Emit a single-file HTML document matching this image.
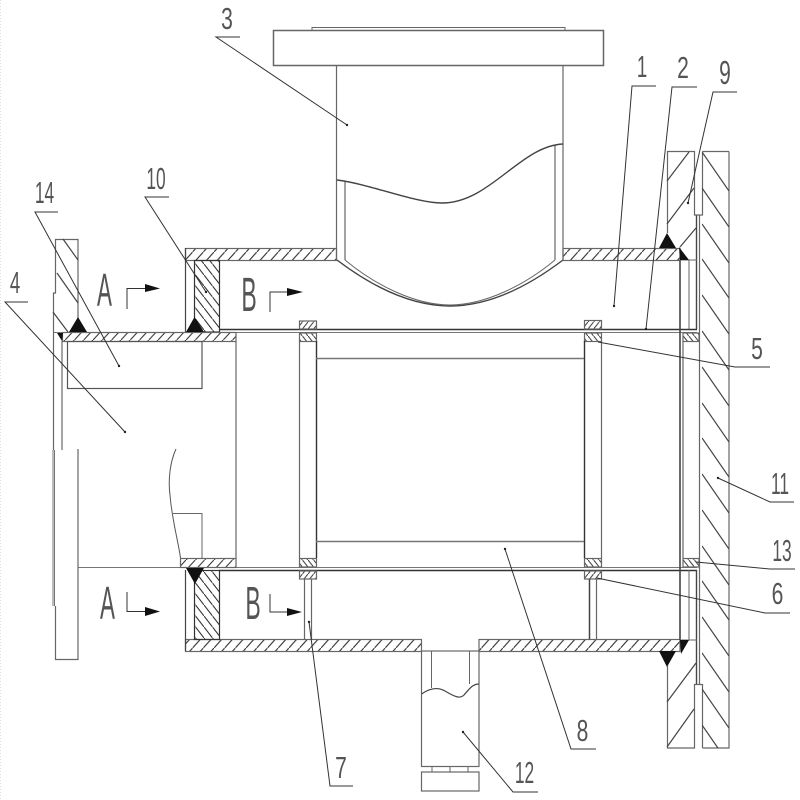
<!DOCTYPE html>
<html>
<head>
<meta charset="utf-8">
<style>
html,body{margin:0;padding:0;background:#fff;width:800px;height:800px;overflow:hidden}
svg{display:block;filter:blur(.35px)}
text{font-family:"Liberation Sans",sans-serif;fill:#555;font-weight:400}
</style>
</head>
<body>
<svg width="800" height="800" viewBox="0 0 800 800" xmlns="http://www.w3.org/2000/svg">
<defs>
<pattern id="hw" width="10.7" height="12" patternUnits="userSpaceOnUse"><path d="M0,12L10.7,0" stroke="#333" stroke-width="1.1" fill="none"/></pattern>
<pattern id="hp" width="9.3" height="10" patternUnits="userSpaceOnUse"><path d="M0,10L9.3,0" stroke="#333" stroke-width="1.1" fill="none"/></pattern>
<pattern id="hb" width="8.5" height="11" patternUnits="userSpaceOnUse"><path d="M0,0L8.5,11" stroke="#333" stroke-width="1.1" fill="none"/></pattern>
<pattern id="rf" width="5.6" height="7" patternUnits="userSpaceOnUse"><path d="M0,7L5.6,0" stroke="#333" stroke-width="1" fill="none"/></pattern>
<pattern id="rb" width="5.6" height="7" patternUnits="userSpaceOnUse"><path d="M0,0L5.6,7" stroke="#333" stroke-width="1" fill="none"/></pattern>
<clipPath id="c11"><rect x="702" y="151" width="27" height="597"/></clipPath>
</defs>
<rect width="800" height="800" fill="#fff"/>
<line x1="0.5" y1="0" x2="0.5" y2="800" stroke="#ddd" stroke-dasharray="1 2"/>

<g fill="none" stroke="#666" stroke-width="1.2">
<!-- top flange and neck -->
<rect x="273.500" y="30.500" width="330" height="35" stroke-width="1.5"/>
<rect x="312" y="27.500" width="253" height="3" stroke-width="1"/>
<path d="M336.500,66V260M563,66V260M345,181V260M555,145V260"/>
<path d="M337,180C370,184 415,203 442,203C490,203 520,146 563,144" stroke="#444" stroke-width="1.4"/>
<path d="M337,260C370,285 410,306 450,306C490,306 530,285 563,260" stroke="#444" stroke-width="1.4"/>
<path d="M345,260C375,285 415,305 450,305C485,305 525,285 555,260" stroke-width="1"/>

<!-- outer tube walls -->
<rect x="185.500" y="248.500" width="151" height="12" fill="url(#hw)"/>
<rect x="563" y="248.500" width="117" height="12" fill="url(#hw)"/>
<rect x="185.500" y="639.500" width="236" height="12" fill="url(#hw)"/>
<rect x="479" y="639.500" width="201" height="12" fill="url(#hw)"/>
<path d="M185.500,248V332M185.500,570V651" stroke="#444"/>
<rect x="194.500" y="260.500" width="25" height="71.500" fill="url(#hb)" stroke="#333"/>
<rect x="194.500" y="570.500" width="25" height="69" fill="url(#hb)" stroke="#333"/>

<!-- inner tube -->
<path d="M219,329.500H697M219,570.500H697" stroke="#333" stroke-width="1.6"/>
<path d="M53,332.500H62M236,332.500H697M78,567.500H180M236,567.500H697" stroke="#777" stroke-width="1"/>

<!-- inlet pipe -->
<rect x="62.500" y="332.500" width="173.500" height="9" fill="url(#hp)"/>
<rect x="180.500" y="558.500" width="55.500" height="9" fill="url(#hp)"/>
<rect x="67.500" y="341.500" width="134.500" height="47" stroke="#555"/>
<path d="M236,341V558"/>
<path d="M62,341V450"/>
<path d="M176,449C170,462 168,480 170,495C172,520 178,540 180.500,558" stroke="#555" stroke-width="1"/>
<path d="M173,513.500H202V558" stroke-width="1"/>

<!-- left flange -->
<path d="M53.500,332V293H55.500V239.500H78V332"/>
<path d="M53.500,332V450"/>
<path d="M54.500,450V606M53,450V606" stroke-width="0.9"/>
<path d="M78,449V659.500H55.500V606"/>
<path d="M63,239L78,260M57,273L78,303M53,312L68,332" stroke="#444"/>

<!-- rings -->
<rect x="299.500" y="321" width="17" height="8" fill="url(#rf)"/>
<rect x="299.500" y="333" width="17" height="8.500" fill="url(#rb)"/>
<rect x="299.500" y="558.500" width="17" height="8.500" fill="url(#rb)"/>
<rect x="299.500" y="571" width="17" height="8" fill="url(#rf)"/>
<rect x="584.500" y="320.500" width="17" height="8.500" fill="url(#rf)"/>
<rect x="584.500" y="333" width="17" height="8.500" fill="url(#rb)"/>
<rect x="584.500" y="558.500" width="17" height="8.500" fill="url(#rb)"/>
<rect x="584.500" y="571" width="17" height="8" fill="url(#rf)"/>
<rect x="683" y="333" width="16" height="8.500" fill="url(#rb)"/>
<rect x="683" y="558.500" width="16" height="8.500" fill="url(#rb)"/>
<path d="M299.500,341V558M601.500,341V558M683,341V558"/>
<path d="M316.500,341V558M584.500,341V558" stroke="#333" stroke-width="1.4"/>
<path d="M304.500,579V639M311.500,579V639M596.500,579V639"/>
<path d="M589.500,579V639" stroke="#444" stroke-width="1.5"/>

<!-- inner cylinder -->
<path d="M316,358.500H584M316,541.500H584" stroke-width="1.4" stroke="#777"/>

<!-- right verticals -->
<path d="M680,260V640" stroke="#444" stroke-width="1.6"/>
<path d="M689,260V329M689,570V640" stroke-width="1"/>
<path d="M696.500,215V329M696.500,570V684" stroke="#444" stroke-width="1.4"/>

<!-- end plate 9 -->
<path d="M667.500,233V151.500H694.500V215H702.500V151.500"/>
<path d="M667.500,666V748H694.500V684.500H702.500V748"/>
<path d="M680,260H697M680,640H697" stroke-width="1"/>
<path d="M667,181L689,152M667,224L694,188M680,247L696,228M667,702L696,663M667,747L694,709" stroke="#444"/>

<!-- plate 11 -->
<path d="M729,151.500H702.500M729,151.500V748H702.500M699.500,215V684"/>
<g clip-path="url(#c11)" stroke="#444">
<path d="M702,152l27,39M702,188l27,39M702,224l27,39M702,259l27,39M702,295l27,39M702,331l27,39M702,367l27,39M702,403l27,39M702,438l27,39M702,474l27,39M702,510l27,39M702,546l27,39M702,581l27,39M702,617l27,39M702,653l27,39M702,689l27,39M702,725l27,39"/>
</g>

<!-- bottom nozzle -->
<rect x="421.500" y="651" width="57.500" height="115.500"/>
<path d="M431.500,651V688M469.500,651V684" stroke-width="1"/>
<path d="M421.500,694C430,688 438,687 445,691C455,697 460,699 464,695C470,688 473,684 479,684" stroke="#444"/>
<path d="M432,766V772M450,766V772M468,766V772" stroke-width="1"/>
<rect x="421.500" y="772" width="57.500" height="19"/>

<!-- leaders -->
<g stroke="#333" stroke-width="1">
<path d="M240,37H216L347,125"/>
<path d="M656,86H632L614,306"/>
<path d="M697,87H672L646,329"/>
<path d="M737,92H713L688,203"/>
<path d="M598,342L735,367H770"/>
<path d="M696,562L770,569H795"/>
<path d="M597,578L765,613H790"/>
<path d="M505,549L571,749H596"/>
<path d="M463,732L513,792H538"/>
<path d="M309,622L330,786H353"/>
<path d="M718,478L770,502H794"/>
<path d="M58,212H35L119,366"/>
<path d="M169,197H145L206,292"/>
<path d="M28,302H5L125,432"/>
</g>

<!-- section arrows -->
<g stroke="#333" stroke-width="1">
<path d="M127,309V288.500H145"/>
<path d="M270,312V292H288"/>
<path d="M127,592V611.500H145"/>
<path d="M270,594V612H288"/>
</g>
</g>

<!-- black fills -->
<g fill="#111">
<path d="M145,284L160,288.500L145,292Z"/>
<path d="M287,288L303,292L287,296Z"/>
<path d="M145,607L160,611.500L145,616Z"/>
<path d="M287,608L302,612L287,616Z"/>
<path d="M78,317L69,332H87Z"/>
<path d="M194.500,317L186,332H204Z"/>
<path d="M186,568H204L195,584Z"/>
<path d="M57,333H63L62,341Z"/>
<path d="M667,233L659,248H676Z"/>
<path d="M679,247L689,260H680Z"/>
<path d="M659,651H676L667,667Z"/>
<path d="M680,640H689L681,654Z"/>
</g>

<!-- dots -->
<g fill="#222">
<circle cx="347" cy="125" r="1.2"/><circle cx="614" cy="306" r="1.2"/><circle cx="688" cy="203" r="1.2"/>
<circle cx="119" cy="366" r="1.2"/><circle cx="125" cy="432" r="1.2"/><circle cx="206" cy="292" r="1.2"/>
<circle cx="718" cy="478" r="1.2"/><circle cx="505" cy="549" r="1.2"/><circle cx="463" cy="732" r="1.2"/>
<circle cx="309" cy="622" r="1.2"/><circle cx="646" cy="329" r="1.2"/>
</g>

<!-- labels -->
<g font-size="31" text-anchor="middle">
<text transform="translate(227,29) scale(.68,1)">3</text>
<text transform="translate(642,77) scale(.6,1)">1</text>
<text transform="translate(683,78) scale(.68,1)">2</text>
<text transform="translate(725,84) scale(.68,1.08)">9</text>
<text transform="translate(44.500,203) scale(.56,1)">14</text>
<text transform="translate(156,189) scale(.56,1)">10</text>
<text transform="translate(15,293) scale(.6,1)">4</text>
<text transform="translate(757,359) scale(.68,1)">5</text>
<text transform="translate(782,561) scale(.56,1)">13</text>
<text transform="translate(777.500,604) scale(.68,1)">6</text>
<text transform="translate(582.500,741) scale(.68,1)">8</text>
<text transform="translate(524.500,783) scale(.56,1)">12</text>
<text transform="translate(341,778) scale(.68,1)">7</text>
<text transform="translate(780,494) scale(.56,1)">11</text>
<text transform="translate(104.500,306) scale(.7,1.45)" font-size="32">A</text>
<text transform="translate(249,311) scale(.72,1.5)" font-size="32">B</text>
<text transform="translate(107.500,619) scale(.7,1.45)" font-size="32">A</text>
<text transform="translate(253,619) scale(.72,1.45)" font-size="32">B</text>
</g>
</svg>
</body>
</html>
